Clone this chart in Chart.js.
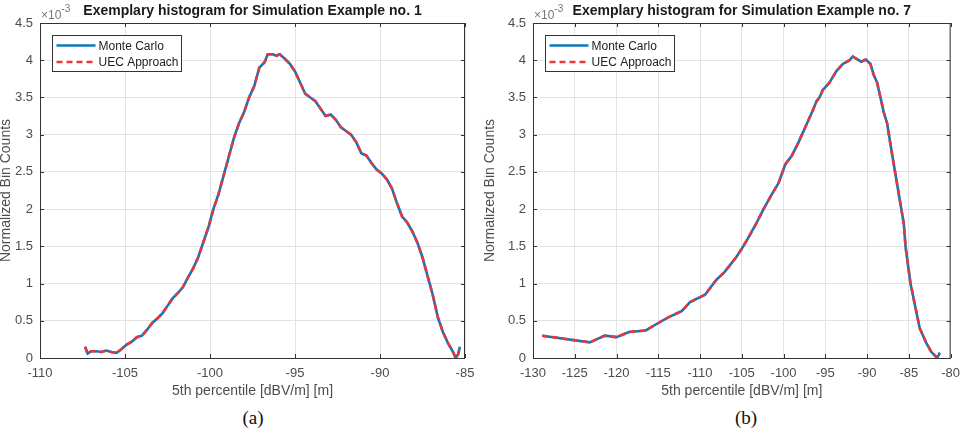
<!DOCTYPE html>
<html>
<head>
<meta charset="utf-8">
<script src="https://cdn.jsdelivr.net/npm/chart.js@4/dist/chart.umd.min.js"></script>
<style>
    body { margin: 0; background: #fff; }
    #wrap { position: relative; width: 968px; height: 430px; }
    .box { position: absolute; top: 0; width: 484px; height: 400px; }
    .cap { position: absolute; top: 407px; font: 19px "Liberation Serif", "Times New Roman", serif; color: #111; transform: translateX(-50%); }
</style>
</head>
<body>
<div id="wrap">
    <div class="box" style="left:0"><canvas id="chartA" width="484" height="400"></canvas></div>
    <div class="box" style="left:484px"><canvas id="chartB" width="484" height="400"></canvas></div>
    <div class="cap" style="left:253px">(a)</div>
    <div class="cap" style="left:746px">(b)</div>
</div>
<script>
;(function () {
    'use strict';

    // values of the y axis are in units of 1e-3 (the "x10^-3" label)
    var seriesLabels = ['Monte Carlo', 'UEC Approach'];

    // (a) Simulation Example no. 1
    var titleA = 'Exemplary histogram for Simulation Example no. 1';
    var xTicksA = [-110, -105, -100, -95, -90, -85];
    var xA = [-107.35, -107.2, -107.0, -106.7, -106.4, -106.1, -105.8, -105.5, -105.2, -104.9,
              -104.6, -104.3, -104.0, -103.7, -103.4, -103.1, -102.8, -102.5, -102.2, -101.9,
              -101.6, -101.3, -101.0, -100.7, -100.4, -100.1, -99.8, -99.5, -99.2, -98.9,
              -98.6, -98.3, -98.0, -97.7, -97.4, -97.1, -96.8, -96.6, -96.3, -96.1,
              -95.9, -95.6, -95.3, -95.0, -94.7, -94.4, -94.1, -93.8, -93.5, -93.2,
              -92.9, -92.6, -92.3, -92.0, -91.7, -91.4, -91.1, -90.8, -90.5, -90.2,
              -89.9, -89.6, -89.3, -89.0, -88.7, -88.4, -88.1, -87.8, -87.5, -87.2,
              -86.9, -86.6, -86.3, -86.0, -85.7, -85.55, -85.4, -85.3];
    var mcA = [0.15, 0.06, 0.09, 0.09, 0.08, 0.10, 0.08, 0.07, 0.12, 0.18,
               0.22, 0.28, 0.30, 0.38, 0.47, 0.53, 0.60, 0.70, 0.80, 0.87,
               0.95, 1.08, 1.20, 1.35, 1.55, 1.75, 2.00, 2.20, 2.45, 2.70,
               2.95, 3.15, 3.30, 3.50, 3.65, 3.90, 3.97, 4.08, 4.08, 4.06,
               4.08, 4.02, 3.95, 3.85, 3.70, 3.55, 3.50, 3.45, 3.35, 3.25,
               3.27, 3.20, 3.10, 3.05, 3.00, 2.90, 2.75, 2.72, 2.62, 2.53,
               2.48, 2.40, 2.28, 2.08, 1.90, 1.82, 1.70, 1.55, 1.35, 1.10,
               0.85, 0.55, 0.35, 0.20, 0.08, 0.00, 0.05, 0.15];
    var uecA = mcA;

    // (b) Simulation Example no. 7
    var titleB = 'Exemplary histogram for Simulation Example no. 7';
    var xTicksB = [-130, -125, -120, -115, -110, -105, -100, -95, -90, -85, -80];
    var xB = [-128.9, -123.2, -121.4, -120.0, -118.5, -116.5, -115.3, -113.75, -112.2, -111.2,
              -109.4, -108.05, -107.1, -105.7, -105.1, -104.3, -103.3, -102.4, -101.4, -100.6,
              -99.8, -99.0, -98.2, -97.4, -96.6, -96.05, -95.7, -95.3, -94.5, -93.7,
              -92.9, -92.1, -91.7, -91.3, -90.7, -90.15, -89.6, -89.2, -88.8, -88.4,
              -88.0, -87.6, -87.1, -86.8, -86.2, -85.9, -85.6, -85.4, -84.8, -84.25,
              -83.7, -82.9, -82.3, -81.6, -81.3];
    var mcB = [0.30, 0.21, 0.30, 0.28, 0.35, 0.37, 0.45, 0.55, 0.63, 0.75,
               0.85, 1.05, 1.15, 1.35, 1.45, 1.60, 1.80, 2.00, 2.20, 2.35,
               2.60, 2.72, 2.90, 3.10, 3.30, 3.45, 3.50, 3.60, 3.70, 3.85,
               3.95, 4.00, 4.05, 4.02, 3.98, 4.01, 3.95, 3.80, 3.70, 3.50,
               3.30, 3.15, 2.80, 2.60, 2.20, 2.00, 1.80, 1.50, 1.00, 0.70,
               0.40, 0.20, 0.08, 0.00, 0.07];
    var uecB = mcB;

    var yTicks = [0, 0.5, 1, 1.5, 2, 2.5, 3, 3.5, 4, 4.5];

    var FONT = '"Liberation Sans", Arial, Helvetica, sans-serif';
    var BLUE = '#0b78bf';
    var RED = '#e8373c';
    var TEXT = '#4d4d4d';
    var FRAME = '#333';

    Chart.defaults.font.family = FONT;
    Chart.defaults.color = TEXT;

    function toPoints(xs, ys) {
        return xs.map(function (x, i) { return { x: x, y: ys[i] }; });
    }

    // frame, title, exponent label and legend in the matlab look
    var matlabLook = {
        id: 'matlabLook',
        afterDraw: function (chart) {
            var ctx = chart.ctx;
            var a = chart.chartArea;
            var opts = chart.options.plugins.matlabLook;
            ctx.save();

            ctx.strokeStyle = FRAME;
            ctx.lineWidth = 1;
            ctx.strokeRect(a.left + 0.5, a.top + 0.5, a.right - a.left - 1, a.bottom - a.top);

            // small inner tick marks
            var xs = chart.scales.x, ys = chart.scales.y;
            ctx.beginPath();
            xs.ticks.forEach(function (t) {
                var px = Math.round(xs.getPixelForValue(t.value)) + 0.5;
                ctx.moveTo(px, a.bottom); ctx.lineTo(px, a.bottom - 4);
                ctx.moveTo(px, a.top); ctx.lineTo(px, a.top + 4);
            });
            ys.ticks.forEach(function (t) {
                var py = Math.round(ys.getPixelForValue(t.value)) + 0.5;
                ctx.moveTo(a.left, py); ctx.lineTo(a.left + 4, py);
                ctx.moveTo(a.right, py); ctx.lineTo(a.right - 4, py);
            });
            ctx.stroke();

            ctx.fillStyle = '#1a1a1a';
            ctx.font = 'bold 14px ' + FONT;
            ctx.textAlign = 'center';
            ctx.textBaseline = 'middle';
            ctx.fillText(opts.title, (a.left + a.right) / 2, 11);

            ctx.fillStyle = '#777';
            ctx.textAlign = 'left';
            ctx.textBaseline = 'alphabetic';
            ctx.font = '12px ' + FONT;
            ctx.fillText('\u00d710', a.left + 1, 19);
            var w = ctx.measureText('\u00d710').width;
            ctx.font = '10px ' + FONT;
            ctx.fillText('-3', a.left + 1 + w, 12);

            // legend
            var lx = a.left + 12.5, ly = a.top + 12.5;
            ctx.fillStyle = '#fff';
            ctx.fillRect(lx, ly, 129, 36);
            ctx.strokeStyle = FRAME;
            ctx.strokeRect(lx, ly, 129, 36);
            ctx.font = '12px ' + FONT;
            ctx.textBaseline = 'middle';
            chart.data.datasets.forEach(function (ds, i) {
                var y = ly + 10 + i * 16.5;
                ctx.beginPath();
                ctx.strokeStyle = ds.borderColor;
                ctx.lineWidth = 2.5;
                ctx.setLineDash(ds.borderDash || []);
                ctx.moveTo(lx + 4, y);
                ctx.lineTo(lx + 43, y);
                ctx.stroke();
                ctx.setLineDash([]);
                ctx.fillStyle = '#222';
                ctx.fillText(ds.label, lx + 46, y + 1);
            });
            ctx.restore();
        }
    };

    function makeChart(id, title, xs, mc, uec, xTicks, leftW, rightPad) {
        return new Chart(document.getElementById(id), {
            type: 'line',
            data: {
                datasets: [{
                    label: seriesLabels[0],
                    data: toPoints(xs, mc),
                    borderColor: BLUE,
                    borderWidth: 2.6,
                    pointRadius: 0,
                    order: 2
                }, {
                    label: seriesLabels[1],
                    data: toPoints(xs, uec),
                    borderColor: RED,
                    borderWidth: 2.6,
                    borderDash: [6, 4],
                    pointRadius: 0,
                    order: 1
                }]
            },
            options: {
                responsive: false,
                animation: false,
                layout: { padding: { top: 23, right: rightPad, left: 0, bottom: 0 } },
                plugins: {
                    legend: { display: false },
                    tooltip: { enabled: false },
                    matlabLook: { title: title }
                },
                scales: {
                    x: {
                        type: 'linear',
                        min: xTicks[0],
                        max: xTicks[xTicks.length - 1],
                        afterBuildTicks: function (s) {
                            s.ticks = xTicks.map(function (v) { return { value: v }; });
                        },
                        afterFit: function (s) { s.height = 42; },
                        grid: { color: '#e3e3e3', drawTicks: false },
                        border: { display: false },
                        ticks: { padding: 8, font: { size: 13 }, color: TEXT, maxRotation: 0 },
                        title: {
                            display: true,
                            text: '5th percentile [dBV/m] [m]',
                            font: { size: 14 },
                            color: TEXT,
                            padding: 0
                        }
                    },
                    y: {
                        min: 0,
                        max: 4.5,
                        afterBuildTicks: function (s) {
                            s.ticks = yTicks.map(function (v) { return { value: v }; });
                        },
                        afterFit: function (s) { s.width = leftW; },
                        grid: { color: '#e3e3e3', drawTicks: false },
                        border: { display: false },
                        ticks: {
                            padding: 7,
                            font: { size: 13 },
                            color: TEXT,
                            callback: function (v) { return String(v); }
                        },
                        title: {
                            display: true,
                            text: 'Normalized Bin Counts',
                            font: { size: 14 },
                            color: TEXT,
                            padding: { top: -2, bottom: 0 }
                        }
                    }
                }
            },
            plugins: [matlabLook]
        });
    }

    makeChart('chartA', titleA, xA, mcA, uecA, xTicksA, 40, 19);
    makeChart('chartB', titleB, xB, mcB, uecB, xTicksB, 49, 11);
})();
</script>
</body>
</html>
